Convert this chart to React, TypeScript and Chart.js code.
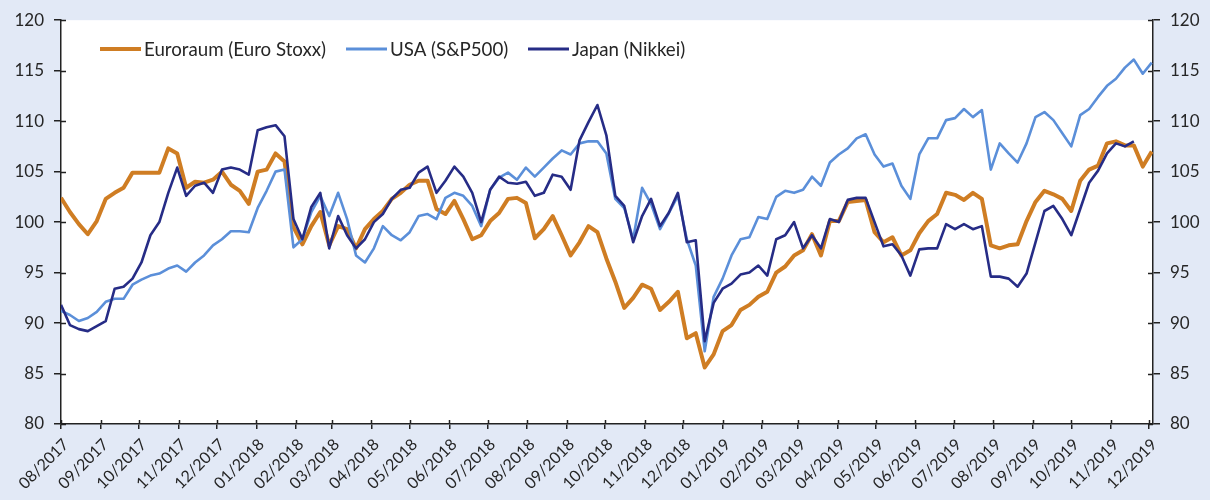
import React, { useEffect, useRef } from "react";
import { Chart, registerables } from "chart.js";

Chart.register(...registerables);

// ---------- data ----------
const startDate = "2017-08-01";
const stepDays = 7; // one reading per week
const lastDay = 855;

const monthLabels = [
  "08/2017", "09/2017", "10/2017", "11/2017", "12/2017",
  "01/2018", "02/2018", "03/2018", "04/2018", "05/2018", "06/2018",
  "07/2018", "08/2018", "09/2018", "10/2018", "11/2018", "12/2018",
  "01/2019", "02/2019", "03/2019", "04/2019", "05/2019", "06/2019",
  "07/2019", "08/2019", "09/2019", "10/2019", "11/2019", "12/2019",
];

const seriesNames = ["Euroraum (Euro Stoxx)", "USA (S&P500)", "Japan (Nikkei)"];

const euroStoxx = [
  102.4, 101.0, 99.8, 98.8, 100.1, 102.3, 102.9, 103.4, 104.9, 104.9,
  104.9, 104.9, 107.3, 106.8, 103.4, 104.0, 103.9, 104.2, 105.0, 103.7,
  103.1, 101.8, 105.0, 105.2, 106.8, 106.0, 99.5, 97.8, 99.6, 101.0,
  97.7, 99.6, 99.3, 97.4, 99.3, 100.3, 101.1, 102.3, 102.9, 103.7,
  104.1, 104.1, 101.3, 100.8, 102.1, 100.3, 98.3, 98.7, 100.1, 100.9,
  102.3, 102.4, 101.9, 98.4, 99.3, 100.6, 98.7, 96.7, 98.0, 99.6,
  99.0, 96.4, 94.1, 91.5, 92.5, 93.8, 93.4, 91.3, 92.1, 93.1,
  88.5, 89.0, 85.6, 86.9, 89.2, 89.8, 91.3, 91.8, 92.6, 93.1,
  95.0, 95.6, 96.7, 97.2, 98.8, 96.7, 100.1, 100.1, 102.0, 102.1,
  102.2, 99.0, 98.0, 98.5, 96.7, 97.2, 98.9, 100.1, 100.8, 102.9,
  102.7, 102.2, 102.9, 102.3, 97.7, 97.4, 97.7, 97.8, 100.1, 102.0,
  103.1, 102.75, 102.3, 101.1, 104.1, 105.2, 105.6, 107.8, 108.0, 107.6,
  107.6, 105.5, 107.0,
];

const sp500 = [
  91.2, 90.8, 90.2, 90.5, 91.1, 92.1, 92.4, 92.4, 93.8, 94.3,
  94.7, 94.9, 95.4, 95.7, 95.1, 96.0, 96.7, 97.7, 98.3, 99.1,
  99.1, 99.0, 101.4, 103.1, 105.0, 105.2, 97.5, 98.3, 101.0, 102.6,
  100.6, 102.9, 100.3, 96.7, 96.0, 97.4, 99.6, 98.7, 98.2, 99.0,
  100.6, 100.8, 100.3, 102.4, 102.9, 102.6, 101.6, 99.6, 103.2, 104.4,
  104.9, 104.2, 105.4, 104.5, 105.4, 106.3, 107.1, 106.7, 107.8, 108.0,
  108.0, 106.8, 102.3, 101.4, 98.3, 103.4, 101.8, 99.3, 100.9, 102.6,
  98.3, 95.7, 87.2, 92.6, 94.4, 96.7, 98.3, 98.5, 100.5, 100.3,
  102.5, 103.1, 102.9, 103.2, 104.5, 103.6, 105.9, 106.7, 107.3, 108.3,
  108.7, 106.7, 105.5, 105.8, 103.6, 102.3, 106.7, 108.3, 108.3, 110.1,
  110.3, 111.2, 110.4, 111.1, 105.2, 107.8, 106.8, 105.9, 107.8, 110.4,
  110.9, 110.1, 108.8, 107.5, 110.6, 111.2, 112.4, 113.5, 114.2, 115.3,
  116.1, 114.7, 115.8,
];

const nikkei = [
  91.8, 89.8, 89.4, 89.2, 89.7, 90.2, 93.4, 93.6, 94.4, 96.0,
  98.7, 100.0, 102.9, 105.4, 102.6, 103.6, 103.9, 102.9, 105.2, 105.4,
  105.2, 104.7, 109.1, 109.4, 109.6, 108.5, 100.3, 98.3, 101.5, 102.9,
  97.4, 100.6, 98.7, 97.4, 98.3, 100.0, 100.8, 102.3, 103.2, 103.4,
  104.9, 105.5, 102.9, 104.1, 105.5, 104.5, 102.9, 100.0, 103.2, 104.5,
  103.9, 103.8, 104.0, 102.6, 102.9, 104.7, 104.5, 103.2, 108.1, 109.9,
  111.6, 108.6, 102.6, 101.6, 98.0, 100.6, 102.3, 99.6, 100.95, 102.9,
  98.0, 98.2, 88.2, 92.0, 93.4, 93.9, 94.8, 95.0, 95.7, 94.7,
  98.3, 98.7, 100.0, 97.4, 98.7, 97.4, 100.3, 100.0, 102.2, 102.4,
  102.4, 100.0, 97.6, 97.8, 96.7, 94.7, 97.3, 97.4, 97.4, 99.8,
  99.3, 99.8, 99.3, 99.6, 94.6, 94.6, 94.4, 93.6, 94.9, 98.0,
  101.1, 101.6, 100.3, 98.7, 101.3, 103.9, 105.1, 106.8, 107.8, 107.5,
  108.0, null, null,
];

const yMin = 80;
const yMax = 120;
const yStep = 5;

// ---------- helpers ----------
const DAY = 86400000;
const startMs = Date.parse(startDate + "T00:00:00Z");
function monthOffset(label: string): number {
  const [m, y] = label.split("/").map(Number);
  return (Date.UTC(y, m - 1, 1) - startMs) / DAY;
}
const monthDays = monthLabels.map(monthOffset);

function toPoints(values: (number | null)[]) {
  return values.map((v, i) => ({ x: i * stepDays, y: v }));
}

const COLORS = ["#cf7d23", "#5b8fd9", "#262c86"];
const WIDTHS = [4, 2.6, 2.6];
const FONT = "Lato";
const TEXT = "#262626";
const AXIS = "#222222";

const plotBg = {
  id: "plotBg",
  beforeDraw(chart: any) {
    const { ctx, chartArea } = chart;
    ctx.save();
    ctx.fillStyle = "#ffffff";
    ctx.fillRect(chartArea.left, chartArea.top, chartArea.right - chartArea.left, chartArea.bottom - chartArea.top);
    ctx.restore();
  },
};

const innerTicks = {
  id: "innerTicks",
  afterDraw(chart: any) {
    const { ctx, chartArea } = chart;
    const len = 4;
    ctx.save();
    ctx.strokeStyle = AXIS;
    ctx.lineWidth = 1.5;
    ctx.beginPath();
    const x = chart.scales.x;
    x.ticks.forEach((t: any) => {
      const px = Math.round(x.getPixelForValue(t.value)) + 0.5;
      ctx.moveTo(px, chartArea.bottom);
      ctx.lineTo(px, chartArea.bottom - len);
    });
    const y = chart.scales.y;
    y.ticks.forEach((t: any) => {
      const py = Math.round(y.getPixelForValue(t.value)) + 0.5;
      ctx.moveTo(chartArea.left, py);
      ctx.lineTo(chartArea.left + len + 1, py);
      ctx.moveTo(chartArea.right, py);
      ctx.lineTo(chartArea.right - len - 1, py);
    });
    ctx.stroke();
    ctx.restore();
  },
};

const insideLegend = {
  id: "insideLegend",
  afterDatasetsDraw(chart: any) {
    const { ctx } = chart;
    const yPos = 49;
    const starts = [100, 346, 528];
    const lineLen = 41;
    const legendWidths = [4, 3, 3];
    ctx.save();
    ctx.font = `18.7px ${FONT}`;
    ctx.textBaseline = "middle";
    ctx.textAlign = "left";
    seriesNames.forEach((name, i) => {
      ctx.strokeStyle = COLORS[i];
      ctx.lineWidth = legendWidths[i];
      ctx.beginPath();
      ctx.moveTo(starts[i], yPos);
      ctx.lineTo(starts[i] + lineLen, yPos);
      ctx.stroke();
      ctx.fillStyle = TEXT;
      ctx.fillText(name, starts[i] + lineLen + 3, yPos + 1);
    });
    ctx.restore();
  },
};

export default function App() {
  const canvasRef = useRef<HTMLCanvasElement | null>(null);

  useEffect(() => {
    document.body.style.margin = "0";
    const canvas = canvasRef.current;
    if (!canvas) return;
    const seriesValues = [euroStoxx, sp500, nikkei];
    const chart = new Chart(canvas, {
      type: "line",
      data: {
        datasets: seriesValues.map((vals, i) => ({
          label: seriesNames[i],
          data: toPoints(vals),
          borderColor: COLORS[i],
          backgroundColor: COLORS[i],
          borderWidth: WIDTHS[i],
          pointRadius: 0,
          tension: 0,
          fill: false,
          borderJoinStyle: "round" as const,
          order: 3 - i,
          yAxisID: "y",
        })),
      },
      options: {
        responsive: false,
        animation: false,
        devicePixelRatio: 1,
        layout: { padding: { top: 13, left: 0, right: 0, bottom: 0 } },
        plugins: {
          legend: { display: false },
          tooltip: { enabled: false },
        },
        scales: {
          x: {
            type: "linear",
            min: 0,
            max: lastDay,
            afterBuildTicks: (scale: any) => {
              scale.ticks = monthDays.map((v) => ({ value: v }));
            },
            afterFit: (scale: any) => {
              scale.height = 76;
            },
            ticks: {
              autoSkip: false,
              minRotation: 45,
              maxRotation: 45,
              padding: 6,
              labelOffset: 5,
              color: TEXT,
              font: { family: FONT, size: 16 },
              callback: (_v: any, i: number) => monthLabels[i],
            },
            grid: { drawOnChartArea: false, drawTicks: true, tickLength: 5, color: AXIS, lineWidth: 1.5 },
            border: { display: true, color: AXIS, width: 1.5 },
          },
          y: {
            position: "left",
            min: yMin,
            max: yMax,
            afterFit: (scale: any) => {
              scale.width = 61;
            },
            ticks: {
              stepSize: yStep,
              padding: 10,
              color: TEXT,
              font: { family: FONT, size: 17 },
            },
            grid: { drawOnChartArea: false, drawTicks: true, tickLength: 7, color: AXIS, lineWidth: 1.5 },
            border: { display: true, color: AXIS, width: 1.5 },
          },
          y2: {
            position: "right",
            display: true,
            min: yMin,
            max: yMax,
            afterFit: (scale: any) => {
              scale.width = 57;
            },
            ticks: {
              stepSize: yStep,
              padding: 10,
              color: TEXT,
              font: { family: FONT, size: 17 },
            },
            grid: { drawOnChartArea: false, drawTicks: true, tickLength: 7, color: AXIS, lineWidth: 1.5 },
            border: { display: true, color: AXIS, width: 1.5 },
          },
        },
      },
      plugins: [plotBg, innerTicks, insideLegend],
    });
    return () => chart.destroy();
  }, []);

  return (
    <div style={{ width: 1210, height: 500, background: "#e2e9f6", position: "relative" }}>
      <canvas ref={canvasRef} width={1210} height={500} style={{ display: "block" }} />
    </div>
  );
}
